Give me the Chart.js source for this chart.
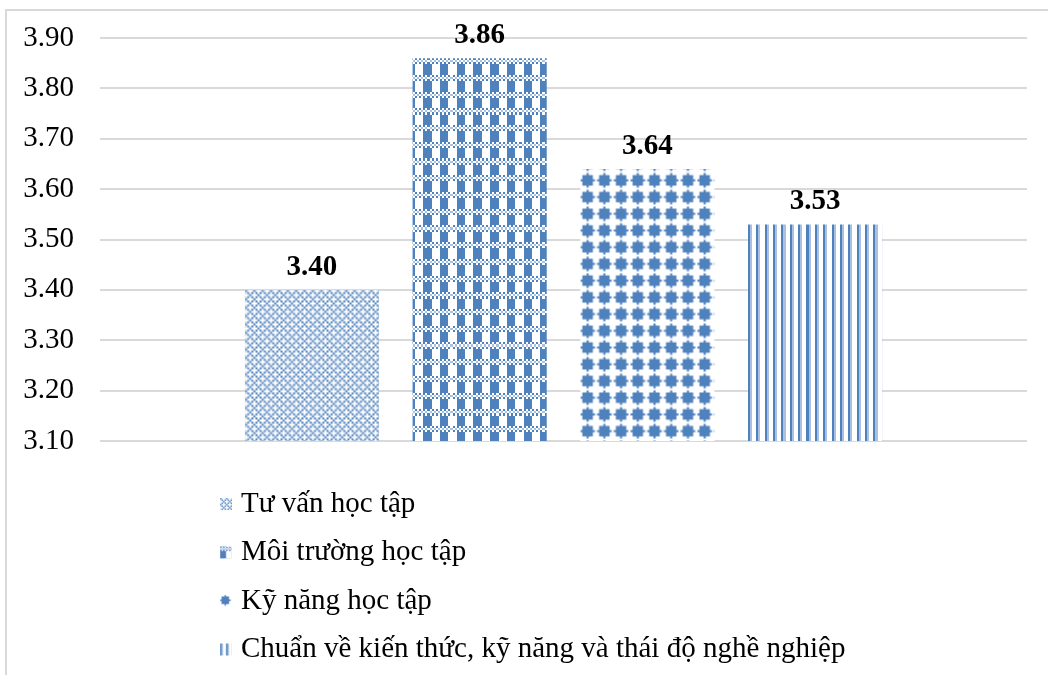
<!DOCTYPE html>
<html>
<head>
<meta charset="utf-8">
<script src="https://cdn.jsdelivr.net/npm/chart.js@4"></script>
<style>
  html, body { margin: 0; padding: 0; background: #ffffff; }
  #wrap { position: relative; width: 1048px; height: 675px; }
</style>
</head>
<body>
<div id="wrap"><canvas id="chart" width="1048" height="675"></canvas></div>
<script>
// ---- data ----
const categories = [''];
const seriesNames = [
  'Tư vấn học tập',
  'Môi trường học tập',
  'Kỹ năng học tập',
  'Chuẩn về kiến thức, kỹ năng và thái độ nghề nghiệp'
];
const seriesValues = [3.40, 3.86, 3.64, 3.53];
const yMin = 3.10;
const yMax = 3.90;
const yStep = 0.10;

// ---- fill patterns (8x8 tiles: 1 = blue, 2 = light blue, . = white) ----
const BLUE = '#4f81bd';
const LIGHT = '#a9c0e2';
const tileMaps = [
  [ // crossed dotted diagonals
    '1...1...',
    '.1.1.1.1',
    '..1...1.',
    '.1.1.1.1',
    '1...1...',
    '.1.1.1.1',
    '..1...1.',
    '.1.1.1.1'
  ],
  [ // checkered band over blocks
    '1.1.1.1.',
    '.2.2.2.2',
    '1.1.1.1.',
    '1111....',
    '1111....',
    '1111....',
    '1111....',
    '1111....'
  ],
  [ // rounded diamonds
    '...1....',
    '.11111..',
    '.11111..',
    '1111111.',
    '.11111..',
    '.11111..',
    '...1....',
    '........'
  ],
  [ // light vertical lines
    '12..12..',
    '12..12..',
    '12..12..',
    '12..12..',
    '12..12..',
    '12..12..',
    '12..12..',
    '12..12..'
  ]
];
const tileShiftX = [0, -6, 0, 0];
const tileShiftY = [0, 0, 4, 0];
const tileSmooth = [true, false, true, false];
const PATTERN_SCALE = 2.09;

function makePattern(rows) {
  const tile = document.createElement('canvas');
  tile.width = 8; tile.height = 8;
  const t = tile.getContext('2d');
  t.fillStyle = '#ffffff';
  t.fillRect(0, 0, 8, 8);
  rows.forEach((row, y) => {
    for (let x = 0; x < row.length; x++) {
      const ch = row[x];
      if (ch === '1' || ch === '2') {
        t.fillStyle = ch === '1' ? BLUE : LIGHT;
        t.fillRect(x, y, 1, 1);
      }
    }
  });
  return document.getElementById('chart').getContext('2d').createPattern(tile, 'repeat');
}
const patterns = tileMaps.map(makePattern);

// Anchor each bar's pattern to the bar's own top-left corner
const patternAnchor = {
  id: 'patternAnchor',
  beforeDatasetsDraw(chart) {
    chart.data.datasets.forEach((ds, i) => {
      const el = chart.getDatasetMeta(i).data[0];
      if (!el) return;
      const left = el.x - el.width / 2;
      patterns[i].setTransform(new DOMMatrix([
        PATTERN_SCALE, 0, 0, PATTERN_SCALE, left + tileShiftX[i], el.y + tileShiftY[i]
      ]));
    });
  },
  beforeDatasetDraw(chart, args) {
    chart.ctx.imageSmoothingEnabled = tileSmooth[args.index];
  },
  afterDatasetsDraw(chart) {
    chart.ctx.imageSmoothingEnabled = true;
  }
};

// Outer frame of the chart box
const frame = {
  id: 'frame',
  beforeDraw(chart) {
    const ctx = chart.ctx;
    ctx.save();
    ctx.strokeStyle = '#d9d9d9';
    ctx.lineWidth = 2;
    ctx.strokeRect(6, 10, 1100, 720);
    ctx.restore();
  }
};

// Bold value labels above the bars
const valueLabels = {
  id: 'valueLabels',
  afterDatasetsDraw(chart) {
    const ctx = chart.ctx;
    ctx.save();
    ctx.font = 'bold 29px "Liberation Serif"';
    ctx.fillStyle = '#000000';
    ctx.textAlign = 'center';
    ctx.textBaseline = 'alphabetic';
    chart.data.datasets.forEach((ds, i) => {
      const el = chart.getDatasetMeta(i).data[0];
      ctx.fillText(ds.data[0].toFixed(2), el.x, el.y - 15);
    });
    ctx.restore();
  }
};

// Vertical legend below the plot
const stackedLegend = {
  id: 'stackedLegend',
  afterDraw(chart) {
    const ctx = chart.ctx;
    ctx.save();
    ctx.font = '29px "Liberation Serif"';
    ctx.textBaseline = 'middle';
    ctx.textAlign = 'left';
    chart.data.datasets.forEach((ds, i) => {
      const cy = 504 + i * 48.5;
      const p = patterns[i];
      p.setTransform(new DOMMatrix([1.5, 0, 0, 1.5, 220, cy - 6]));
      ctx.fillStyle = p;
      ctx.fillRect(220, cy - 6, 12, 12);
      ctx.fillStyle = '#000000';
      ctx.fillText(ds.label, 241, cy);
    });
    ctx.restore();
  }
};

new Chart(document.getElementById('chart'), {
  type: 'bar',
  data: {
    labels: categories,
    datasets: seriesNames.map((name, i) => ({
      label: name,
      data: [seriesValues[i]],
      backgroundColor: patterns[i],
      borderWidth: 0
    }))
  },
  options: {
    responsive: false,
    animation: false,
    events: [],
    layout: { padding: { top: 38, bottom: 234, left: 0, right: 21 } },
    datasets: { bar: { barPercentage: 0.8, categoryPercentage: 0.7235 } },
    plugins: {
      legend: { display: false },
      tooltip: { enabled: false }
    },
    scales: {
      x: { display: false },
      y: {
        min: yMin,
        max: yMax,
        afterFit(scale) {
          scale.width = 100;
          scale.paddingTop = 0;
          scale.paddingBottom = 0;
        },
        border: { display: false },
        grid: { color: '#d9d9d9', lineWidth: 2, drawTicks: false },
        ticks: {
          stepSize: yStep,
          padding: 26,
          color: '#000000',
          font: { family: '"Liberation Serif"', size: 29 },
          callback: (v) => Number(v).toFixed(2)
        }
      }
    }
  },
  plugins: [frame, patternAnchor, valueLabels, stackedLegend]
});
</script>
</body>
</html>
